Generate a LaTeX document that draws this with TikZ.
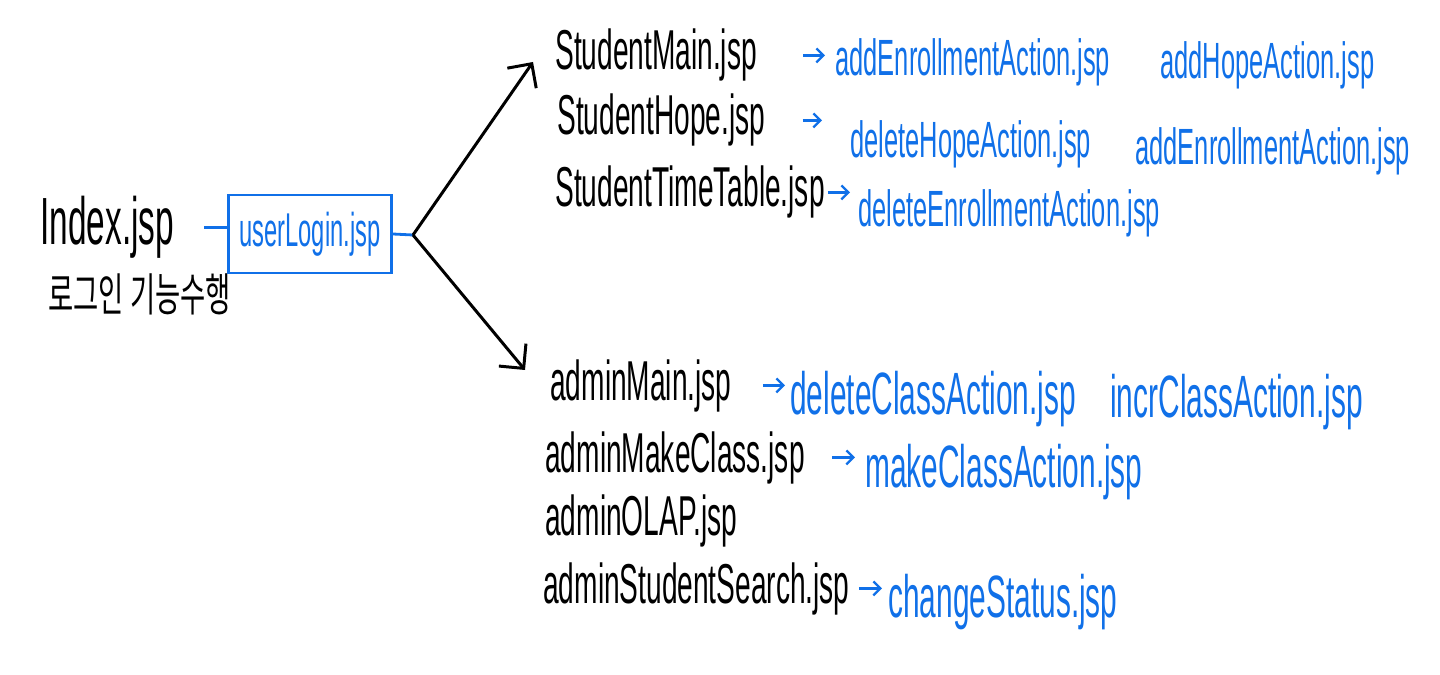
\documentclass[tikz,border=0pt]{standalone}
\usepackage{fontspec}
\setmainfont{Liberation Sans}[FakeStretch=0.5]
\newfontfamily\kofont{Noto Sans CJK KR}[FakeStretch=0.6]
\usetikzlibrary{arrows.meta}
\definecolor{penblue}{RGB}{16,112,232}
\begin{document}
\begin{tikzpicture}[x=0.02cm, y=-0.02cm,
  pagenode/.style={anchor=base west, inner sep=0pt, font=\fontsize{32}{34}\selectfont},
  actnode/.style={anchor=base west, inner sep=0pt, text=penblue, font=\fontsize{#1}{#1}\selectfont},
  actnode/.default=29,
  flow/.style={line width=1.7pt, -{Straight Barb[length=10pt,width=20pt]}},
  jump/.style={penblue, line width=1.3pt, -{Straight Barb[length=4pt,width=8pt]}}]
\useasboundingbox (0,0) rectangle (1440,675);
% login part
\node[pagenode, font=\fontsize{38}{40}\selectfont] (index) at (40,245) {Index.jsp};
\node[anchor=base west, inner sep=0pt, font=\kofont\fontsize{26}{28}\selectfont] (desc) at (48,312) {로그인 기능수행};
\node[draw=penblue, line width=1.6pt, text=penblue, minimum width=3.26cm, minimum height=1.56cm, inner sep=0pt, font=\fontsize{27}{29}\selectfont] (login) at (310,234) {userLogin.jsp};
\coordinate (fork) at (413,235);
\coordinate (tipS) at (533,62);
\coordinate (tipA) at (525,370);
\draw[penblue, line width=1.6pt, shorten <=0.6cm] (index.east) -- (index.east -| login.west);
\draw[penblue, line width=1.6pt] (login.east) -- (fork);
\draw[flow] (fork) -- (tipS);
\draw[flow] (fork) -- (tipA);
% student pages
\node[pagenode] (sMain) at (555,70) {StudentMain.jsp};
\node[pagenode] (sHope) at (557,135) {StudentHope.jsp};
\node[pagenode] (sTable) at (555,207) {StudentTimeTable.jsp};
\node[actnode] (addEnroll) at (835,76) {addEnrollmentAction.jsp};
\node[actnode] (addHope) at (1160,79) {addHopeAction.jsp};
\node[actnode] (delHope) at (850,158) {deleteHopeAction.jsp};
\node[actnode] (addEnrollB) at (1135,165) {addEnrollmentAction.jsp};
\node[actnode] (delEnroll) at (858,227) {deleteEnrollmentAction.jsp};
\draw[jump, shorten <=0.92cm, shorten >=0.2cm] (sMain.east) -- (sMain.east -| addEnroll.west);
\draw[jump, shorten <=0.74cm, shorten >=0.56cm] (sHope.east) -- (sHope.east -| delHope.west);
\draw[jump, shorten <=0.06cm, shorten >=0.16cm] (sTable.east) -- (sTable.east -| delEnroll.west);
% admin pages
\node[pagenode] (aMain) at (550,400) {adminMain.jsp};
\node[pagenode] (aMake) at (545,472) {adminMakeClass.jsp};
\node[pagenode] (aOlap) at (545,535) {adminOLAP.jsp};
\node[pagenode] (aSearch) at (543,603) {adminStudentSearch.jsp};
\node[actnode=34] (delClass) at (790,415) {deleteClassAction.jsp};
\node[actnode=34] (incrClass) at (1110,418) {incrClassAction.jsp};
\node[actnode=34] (makeClass) at (865,487) {makeClassAction.jsp};
\node[actnode=34] (chgStatus) at (888,617) {changeStatus.jsp};
\draw[jump, shorten <=0.62cm, shorten >=0.1cm] (aMain.east) -- (aMain.east -| delClass.west);
\draw[jump, shorten <=0.54cm, shorten >=0.2cm] (aMake.east) -- (aMake.east -| makeClass.west);
\draw[jump, shorten <=0.18cm, shorten >=0.12cm] (aSearch.east) -- (aSearch.east -| chgStatus.west);
\end{tikzpicture}
\end{document}
